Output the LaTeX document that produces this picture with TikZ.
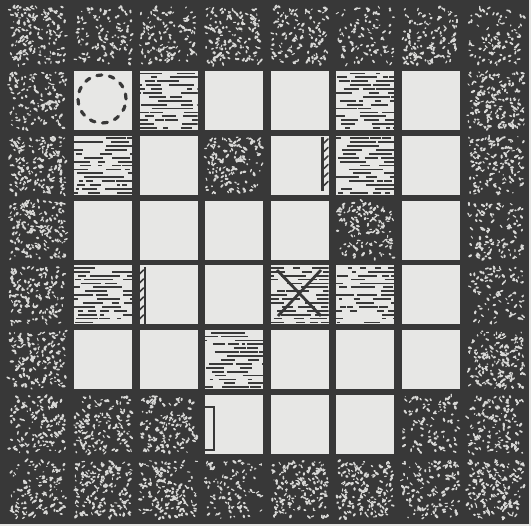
\documentclass[tikz,border=0pt]{standalone}
\definecolor{ink}{HTML}{383838}
\definecolor{paper}{HTML}{E7E7E5}
\definecolor{speck}{HTML}{D8D8D6}
\tikzset{
  speckstroke/.style={speck, line cap=round},
  hatchstroke/.style={ink, line width=1.8pt},
  markstroke/.style={ink, line width=2.4pt},
  tickstroke/.style={ink, line width=1.6pt, line cap=round},
}
\newcommand\darkcell[2]{%
  \pgfmathsetmacro\L{74+65.5*(#1-1)}%
  \pgfmathsetmacro\T{71+64.8*(#2-1)}%
  \pgfmathtruncatemacro\nsp{90+90*rnd}%
  \foreach \k in {1,...,\nsp}{%
    \pgfmathsetmacro\px{\L+1+56*rnd}%
    \pgfmathsetmacro\py{\T+1+57*rnd}%
    \pgfmathsetmacro\dx{(rnd-0.5)*5}%
    \pgfmathsetmacro\dy{(rnd-0.5)*5}%
    \pgfmathsetmacro\w{0.9+rnd*1.5}%
    \draw[speckstroke, line width=\w pt] (\px,\py) -- ++(\dx,\dy);%
  }}
\newcommand\lightcell[2]{%
  \pgfmathsetmacro\L{74+65.5*(#1-1)}%
  \pgfmathsetmacro\T{71+64.8*(#2-1)}%
  \fill[paper] (\L,\T) rectangle ++(58,59);}
\newcommand\hatchcell[2]{%
  \lightcell{#1}{#2}%
  \begin{scope}
  \clip (\L,\T) rectangle ++(58,59);
  \foreach \i in {0,...,14}{%
    \pgfmathsetmacro\hy{\T+2.5+\i*3.9}%
    \foreach \j in {1,...,5}{%
      \pgfmathsetmacro\hx{\L-6+66*rnd}%
      \pgfmathsetmacro\hl{3+17*rnd}%
      \draw[hatchstroke] (\hx,\hy) -- ++(\hl,0);%
    }}%
  \end{scope}}
\begin{document}
\begin{tikzpicture}[x=1pt,y=-1pt]
\useasboundingbox (0,0) rectangle (531,526);
\fill[paper] (0,0) rectangle (531,526);
\fill[ink] (0,0) rectangle (529,524);
\pgfmathsetseed{7}
% outer ring
\foreach \c in {0,...,7}{\darkcell{\c}{0}\darkcell{\c}{7}}
\foreach \r in {1,...,6}{\darkcell{0}{\r}\darkcell{7}{\r}}
% row 1
\lightcell{1}{1}\hatchcell{2}{1}\lightcell{3}{1}\lightcell{4}{1}\hatchcell{5}{1}\lightcell{6}{1}
% row 2
\hatchcell{1}{2}\lightcell{2}{2}\darkcell{3}{2}\lightcell{4}{2}\hatchcell{5}{2}\lightcell{6}{2}
% row 3
\lightcell{1}{3}\lightcell{2}{3}\lightcell{3}{3}\lightcell{4}{3}\darkcell{5}{3}\lightcell{6}{3}
% row 4
\hatchcell{1}{4}\lightcell{2}{4}\lightcell{3}{4}\hatchcell{4}{4}\hatchcell{5}{4}\lightcell{6}{4}
% row 5
\lightcell{1}{5}\lightcell{2}{5}\hatchcell{3}{5}\lightcell{4}{5}\lightcell{5}{5}\lightcell{6}{5}
% row 6
\darkcell{1}{6}\darkcell{2}{6}\lightcell{3}{6}\lightcell{4}{6}\lightcell{5}{6}\darkcell{6}{6}
% dashed circle
\draw[markstroke, line width=3.2pt, line cap=round, dash pattern=on 5pt off 7.6pt] (102,99) circle (24pt);
% cross
\draw[markstroke, line width=2.8pt] (277,270) -- (321,316) (321,270) -- (278,316);
% comb, row 2
\draw[markstroke, line width=2.2pt] (322.5,137) -- (322.5,191);
\foreach \y in {143,151.5,...,191} \draw[tickstroke] (324,\y) -- (328,\y-4);
% comb, row 4
\draw[markstroke, line width=2.2pt] (145,267) -- (145,324);
\foreach \y in {274,283,...,324} \draw[tickstroke] (139.5,\y) -- (143.5,\y-4);
% bracket, row 6
\draw[markstroke, line width=2pt] (205,407) -- (214,407) -- (214,450) -- (205,450);
\end{tikzpicture}
\end{document}
